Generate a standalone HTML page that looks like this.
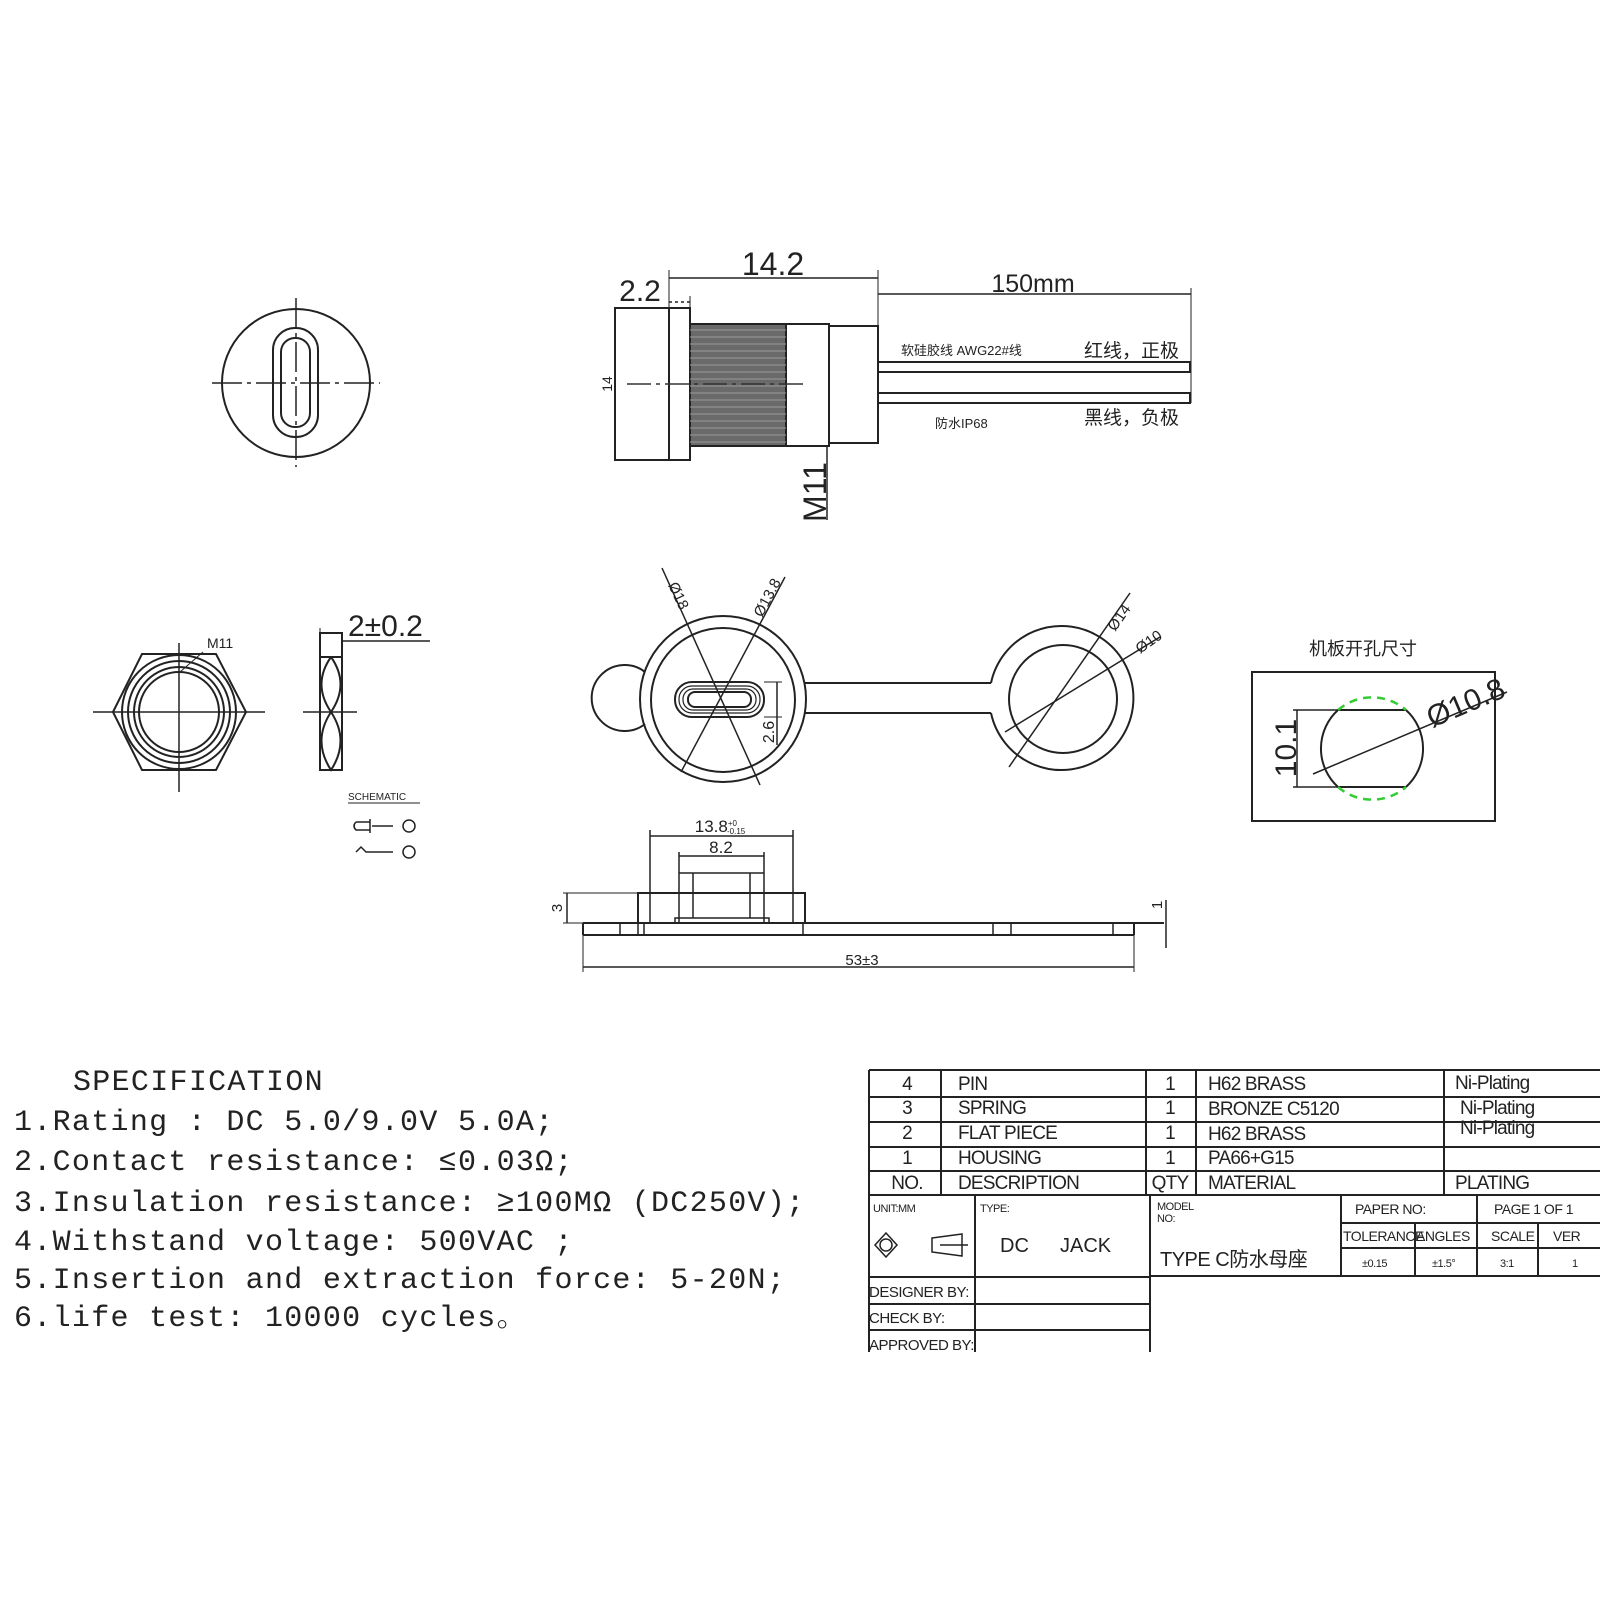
<!DOCTYPE html>
<html><head><meta charset="utf-8"><style>
html,body{margin:0;padding:0;background:#fff}
svg{display:block}
text{font-family:"Liberation Sans","Noto Sans CJK SC",sans-serif;fill:#222}
.m{font-family:"Liberation Mono","Noto Serif CJK SC",monospace;fill:#222;letter-spacing:1.3px}
</style></head><body>
<svg width="1600" height="1600" viewBox="0 0 1600 1600" xmlns="http://www.w3.org/2000/svg">
<g fill="none" stroke="#222" stroke-width="2">
<circle cx="296" cy="383" r="74"/>
<rect x="273" y="328" width="45" height="109" rx="22"/>
<rect x="281" y="338" width="29" height="89" rx="14"/>
<line x1="212" y1="383" x2="380" y2="383" stroke-dasharray="30 5 4 5" stroke-width="1.5"/>
<line x1="296" y1="298" x2="296" y2="467" stroke-dasharray="30 5 4 5" stroke-width="1.5"/>
<rect x="615" y="308" width="54" height="152"/>
<rect x="669" y="308" width="21" height="152"/>
<rect x="690" y="324" width="96" height="122" fill="#6a6a6a"/>
<rect x="786" y="324" width="43" height="122"/>
<rect x="829" y="326" width="49" height="117"/>
<path d="M878 362 H1190 V372 H878 M878 393 H1190 V403 H878"/>
<line x1="627" y1="384" x2="807" y2="384" stroke-dasharray="24 5 4 5" stroke-width="1.5" stroke="#333"/>
<line x1="669" y1="270" x2="669" y2="308" stroke-width="1"/>
<line x1="878" y1="270" x2="878" y2="326" stroke-width="1"/>
<line x1="669" y1="278" x2="878" y2="278" stroke-width="1.5"/>
<line x1="669" y1="302" x2="690" y2="302" stroke-width="1.5" stroke-dasharray="3 3"/>
<line x1="690" y1="296" x2="690" y2="308" stroke-width="1"/>
<line x1="878" y1="294" x2="1191" y2="294" stroke-width="1.5"/>
<line x1="1191" y1="288" x2="1191" y2="403" stroke-width="1"/>
<line x1="827" y1="446" x2="827" y2="520" stroke-width="1.5"/>
</g>
<g stroke="#999" stroke-width="1">
<path d="M690 330H786M690 337H786M690 344H786M690 351H786M690 358H786M690 365H786M690 372H786M690 379H786M690 386H786M690 393H786M690 400H786M690 407H786M690 414H786M690 421H786M690 428H786M690 435H786M690 442H786"/>
</g>
<text x="773" y="275" font-size="32" text-anchor="middle">14.2</text>
<text x="640" y="301" font-size="30" text-anchor="middle">2.2</text>
<text x="1033" y="292" font-size="25" text-anchor="middle">150mm</text>
<text transform="translate(612,384) rotate(-90)" font-size="14" text-anchor="middle">14</text>
<text transform="translate(826,492) rotate(-90)" font-size="32" text-anchor="middle">M11</text>
<text x="901" y="355" font-size="13">软硅胶线 AWG22#线</text>
<text x="1084" y="357" font-size="19">红线，正极</text>
<text x="935" y="428" font-size="13">防水IP68</text>
<text x="1084" y="424" font-size="19">黑线，负极</text>

<g fill="none" stroke="#222" stroke-width="2">
<polygon points="113,712 142,654 216,654 246,712 216,770 142,770"/>
<circle cx="179" cy="712" r="57"/>
<circle cx="179" cy="712" r="51"/>
<circle cx="179" cy="712" r="45"/>
<circle cx="179" cy="712" r="40"/>
<line x1="93" y1="712" x2="265" y2="712" stroke-width="1.5"/>
<line x1="179" y1="643" x2="179" y2="792" stroke-width="1.5"/>
<line x1="180" y1="672" x2="203" y2="652" stroke-width="1"/>
<rect x="320" y="633" width="22" height="137"/>
<line x1="320" y1="657" x2="342" y2="657"/>
<path d="M331 657 Q312 684 331 712 Q350 684 331 657 M331 712 Q312 741 331 770 Q350 741 331 712"/>
<line x1="303" y1="712" x2="357" y2="712" stroke-width="1.5"/>
<line x1="342" y1="641" x2="430" y2="641" stroke-width="1.5"/>
<line x1="320" y1="628" x2="320" y2="640" stroke-width="1"/>
<line x1="348" y1="803" x2="420" y2="803" stroke-width="1"/>
<path d="M356 822 H370 V830 H356 Q352 826 356 822 M370 819 V833 M372 826 H393" stroke-width="1.5"/>
<path d="M356 852 L361 847 L366 852 H393" stroke-width="1.5"/>
<circle cx="409" cy="826" r="6" stroke-width="1.5"/>
<circle cx="409" cy="852" r="6" stroke-width="1.5"/>
</g>
<text x="207" y="648" font-size="14" font-family="Liberation Serif">M11</text>
<text x="348" y="636" font-size="30">2±0.2</text>
<text x="348" y="800" font-size="10" font-family="Liberation Serif">SCHEMATIC</text>

<g fill="none" stroke="#222" stroke-width="2">
<path d="M645 672 A33 33 0 1 0 645 724"/>
<circle cx="723" cy="699" r="83"/>
<circle cx="723" cy="700" r="72"/>
<rect x="675" y="682" width="89" height="35" rx="17"/>
<rect x="679" y="686" width="81" height="27" rx="13" stroke-width="1.2"/>
<rect x="683" y="689" width="73" height="21" rx="10" stroke-width="1.2"/>
<rect x="688" y="692" width="63" height="15" rx="7"/>
<line x1="764" y1="682" x2="782" y2="682" stroke-width="1"/>
<line x1="764" y1="717" x2="782" y2="717" stroke-width="1"/>
<line x1="777" y1="682" x2="777" y2="745" stroke-width="1.5"/>
<line x1="662" y1="568" x2="760" y2="785" stroke-width="1.5"/>
<line x1="785" y1="577" x2="681" y2="772" stroke-width="1.5"/>
<path d="M805 683 H991 M805 713 H991" />
<path d="M991 683 A72 72 0 1 1 991 713"/>
<circle cx="1063" cy="699" r="54"/>
<line x1="1009" y1="767" x2="1130" y2="593" stroke-width="1.5"/>
<line x1="1005" y1="732" x2="1160" y2="637" stroke-width="1.5"/>
</g>
<text transform="translate(668,585) rotate(65)" font-size="15">Ø18</text>
<text transform="translate(762,618) rotate(-62)" font-size="15">Ø13.8</text>
<text transform="translate(1115,632) rotate(-55)" font-size="15">Ø14</text>
<text transform="translate(1140,654) rotate(-35)" font-size="15">Ø10</text>
<text transform="translate(774,732) rotate(-90)" font-size="16" text-anchor="middle">2.6</text>

<g fill="none" stroke="#222" stroke-width="2">
<path d="M583 923 H1164 M583 935 H1134 M583 923 V935 M1134 923 V935"/>
<rect x="638" y="893" width="167" height="30"/>
<path d="M620 923V935 M638 923V935 M644 923V935 M803 923V935 M993 923V935 M1011 923V935 M1113 923V935" stroke-width="1.5"/>
<path d="M650 830 V923 M793 830 V923" stroke-width="1.5"/>
<line x1="650" y1="836" x2="793" y2="836" stroke-width="1.5"/>
<path d="M679 852 V923 M764 852 V923" stroke-width="1.5"/>
<line x1="679" y1="856" x2="764" y2="856" stroke-width="1.5"/>
<line x1="679" y1="873" x2="764" y2="873" stroke-width="1.5"/>
<path d="M693 873 V918 M750 873 V918" stroke-width="1.5"/>
<rect x="675" y="918" width="94" height="5" stroke-width="1.5"/>
<line x1="563" y1="893" x2="638" y2="893" stroke-width="1"/>
<line x1="563" y1="923" x2="583" y2="923" stroke-width="1"/>
<line x1="567" y1="893" x2="567" y2="923" stroke-width="1.5"/>
<path d="M583 935 V972 M1134 935 V972" stroke-width="1"/>
<line x1="583" y1="967" x2="1134" y2="967" stroke-width="1.5"/>
<line x1="1166" y1="900" x2="1166" y2="948" stroke-width="1.5"/>
</g>
<text x="720" y="832" font-size="17" text-anchor="middle">13.8<tspan font-size="8" dy="-6">+0</tspan><tspan font-size="8" dx="-10" dy="8">-0.15</tspan></text>
<text x="721" y="853" font-size="17" text-anchor="middle">8.2</text>
<text x="862" y="965" font-size="15" text-anchor="middle">53±3</text>
<text transform="translate(562,908) rotate(-90)" font-size="15" text-anchor="middle">3</text>
<text transform="translate(1162,905) rotate(-90)" font-size="15" text-anchor="middle">1</text>

<g fill="none" stroke="#222" stroke-width="2">
<rect x="1252" y="672" width="243" height="149"/>
<path d="M1338 710 A52 52 0 0 0 1338 787 M1406 710 A52 52 0 0 1 1406 787"/>
<line x1="1338" y1="710" x2="1406" y2="710"/>
<line x1="1338" y1="787" x2="1406" y2="787"/>
<path d="M1338 710 A52 52 0 0 1 1406 710 M1338 787 A52 52 0 0 0 1406 787" stroke="#3c3" stroke-dasharray="8 6" stroke-width="2.5"/>
<path d="M1293 710 H1338 M1293 787 H1338" stroke-width="1.5"/>
<line x1="1297" y1="710" x2="1297" y2="787" stroke-width="1.5"/>
<line x1="1313" y1="774" x2="1507" y2="692" stroke-width="1.5"/>
</g>
<text x="1363" y="655" font-size="18" text-anchor="middle">机板开孔尺寸</text>
<text transform="translate(1296,748) rotate(-90)" font-size="30" text-anchor="middle">10.1</text>
<text transform="translate(1432,728) rotate(-23)" font-size="30">Ø10.8</text>

<text class="m" x="73" y="1090" font-size="30">SPECIFICATION</text>
<text class="m" x="14" y="1130" font-size="30">1.Rating : DC 5.0/9.0V 5.0A;</text>
<text class="m" x="14" y="1170" font-size="30">2.Contact resistance: ≤0.03Ω;</text>
<text class="m" x="14" y="1211" font-size="30">3.Insulation resistance: ≥100MΩ (DC250V);</text>
<text class="m" x="14" y="1250" font-size="30">4.Withstand voltage: 500VAC ;</text>
<text class="m" x="14" y="1288" font-size="30">5.Insertion and extraction force: 5-20N;</text>
<text class="m" x="14" y="1326" font-size="30">6.life test: 10000 cycles。</text>

<g fill="none" stroke="#222" stroke-width="2">
<path d="M869 1070 H1600 M869 1097 H1600 M869 1122 H1600 M869 1147 H1600 M869 1171 H1600 M869 1195 H1600"/>
<path d="M869 1070 V1352 M941 1070 V1195 M1146 1070 V1195 M1196 1070 V1195 M1444 1070 V1195"/>
<path d="M975 1195 V1352 M1150 1195 V1352 M1150 1276 H1600 M869 1277 H1150 M869 1304 H1150 M869 1330 H1150"/>
<path d="M1341 1195 V1276 M1477 1195 V1276 M1341 1223 H1600 M1341 1248 H1600 M1415 1223 V1276 M1538 1223 V1276"/>
<path d="M886 1233 L897 1245 L886 1257 L875 1245 Z" stroke-width="1.5"/>
<circle cx="886" cy="1245" r="6" stroke-width="1.5"/>
<path d="M932 1238 L962 1234 V1256 L932 1252 Z M940 1245 H968" stroke-width="1.5"/>
</g>
<g font-size="19" letter-spacing="-0.8">
<text x="907" y="1090" text-anchor="middle">4</text><text x="958" y="1090">PIN</text><text x="1170" y="1090" text-anchor="middle">1</text><text x="1208" y="1090">H62 BRASS</text><text x="1455" y="1089">Ni-Plating</text>
<text x="907" y="1114" text-anchor="middle">3</text><text x="958" y="1114">SPRING</text><text x="1170" y="1114" text-anchor="middle">1</text><text x="1208" y="1115">BRONZE C5120</text><text x="1460" y="1114">Ni-Plating</text>
<text x="907" y="1139" text-anchor="middle">2</text><text x="958" y="1139">FLAT PIECE</text><text x="1170" y="1139" text-anchor="middle">1</text><text x="1208" y="1140">H62 BRASS</text><text x="1460" y="1134">Ni-Plating</text>
<text x="907" y="1164" text-anchor="middle">1</text><text x="958" y="1164">HOUSING</text><text x="1170" y="1164" text-anchor="middle">1</text><text x="1208" y="1164">PA66+G15</text>
<text x="907" y="1189" text-anchor="middle">NO.</text><text x="958" y="1189">DESCRIPTION</text><text x="1170" y="1189" text-anchor="middle">QTY</text><text x="1208" y="1189">MATERIAL</text><text x="1455" y="1189">PLATING</text>
</g>
<g font-size="11" letter-spacing="-0.5">
<text x="873" y="1212">UNIT:MM</text><text x="980" y="1212">TYPE:</text>
<text x="1157" y="1210">MODEL</text><text x="1157" y="1222">NO:</text>
<text x="869" y="1297" font-size="15">DESIGNER BY:</text>
<text x="869" y="1323" font-size="15">CHECK  BY:</text>
<text x="869" y="1350" font-size="15">APPROVED BY:</text>
<text x="1355" y="1214" font-size="14">PAPER NO:</text>
<text x="1494" y="1214" font-size="14">PAGE 1 OF 1</text>
<text x="1343" y="1241" font-size="14">TOLERANCE</text>
<text x="1416" y="1241" font-size="14">ANGLES</text>
<text x="1491" y="1241" font-size="14">SCALE</text>
<text x="1553" y="1241" font-size="14">VER</text>
<text x="1362" y="1267">±0.15</text><text x="1432" y="1267">±1.5°</text><text x="1500" y="1267">3:1</text><text x="1572" y="1267">1</text>
</g>
<text x="1000" y="1252" font-size="20">DC</text>
<text x="1060" y="1252" font-size="20">JACK</text>
<text x="1160" y="1266" font-size="20" letter-spacing="-0.5">TYPE  C防水母座</text>
</svg>
</body></html>
